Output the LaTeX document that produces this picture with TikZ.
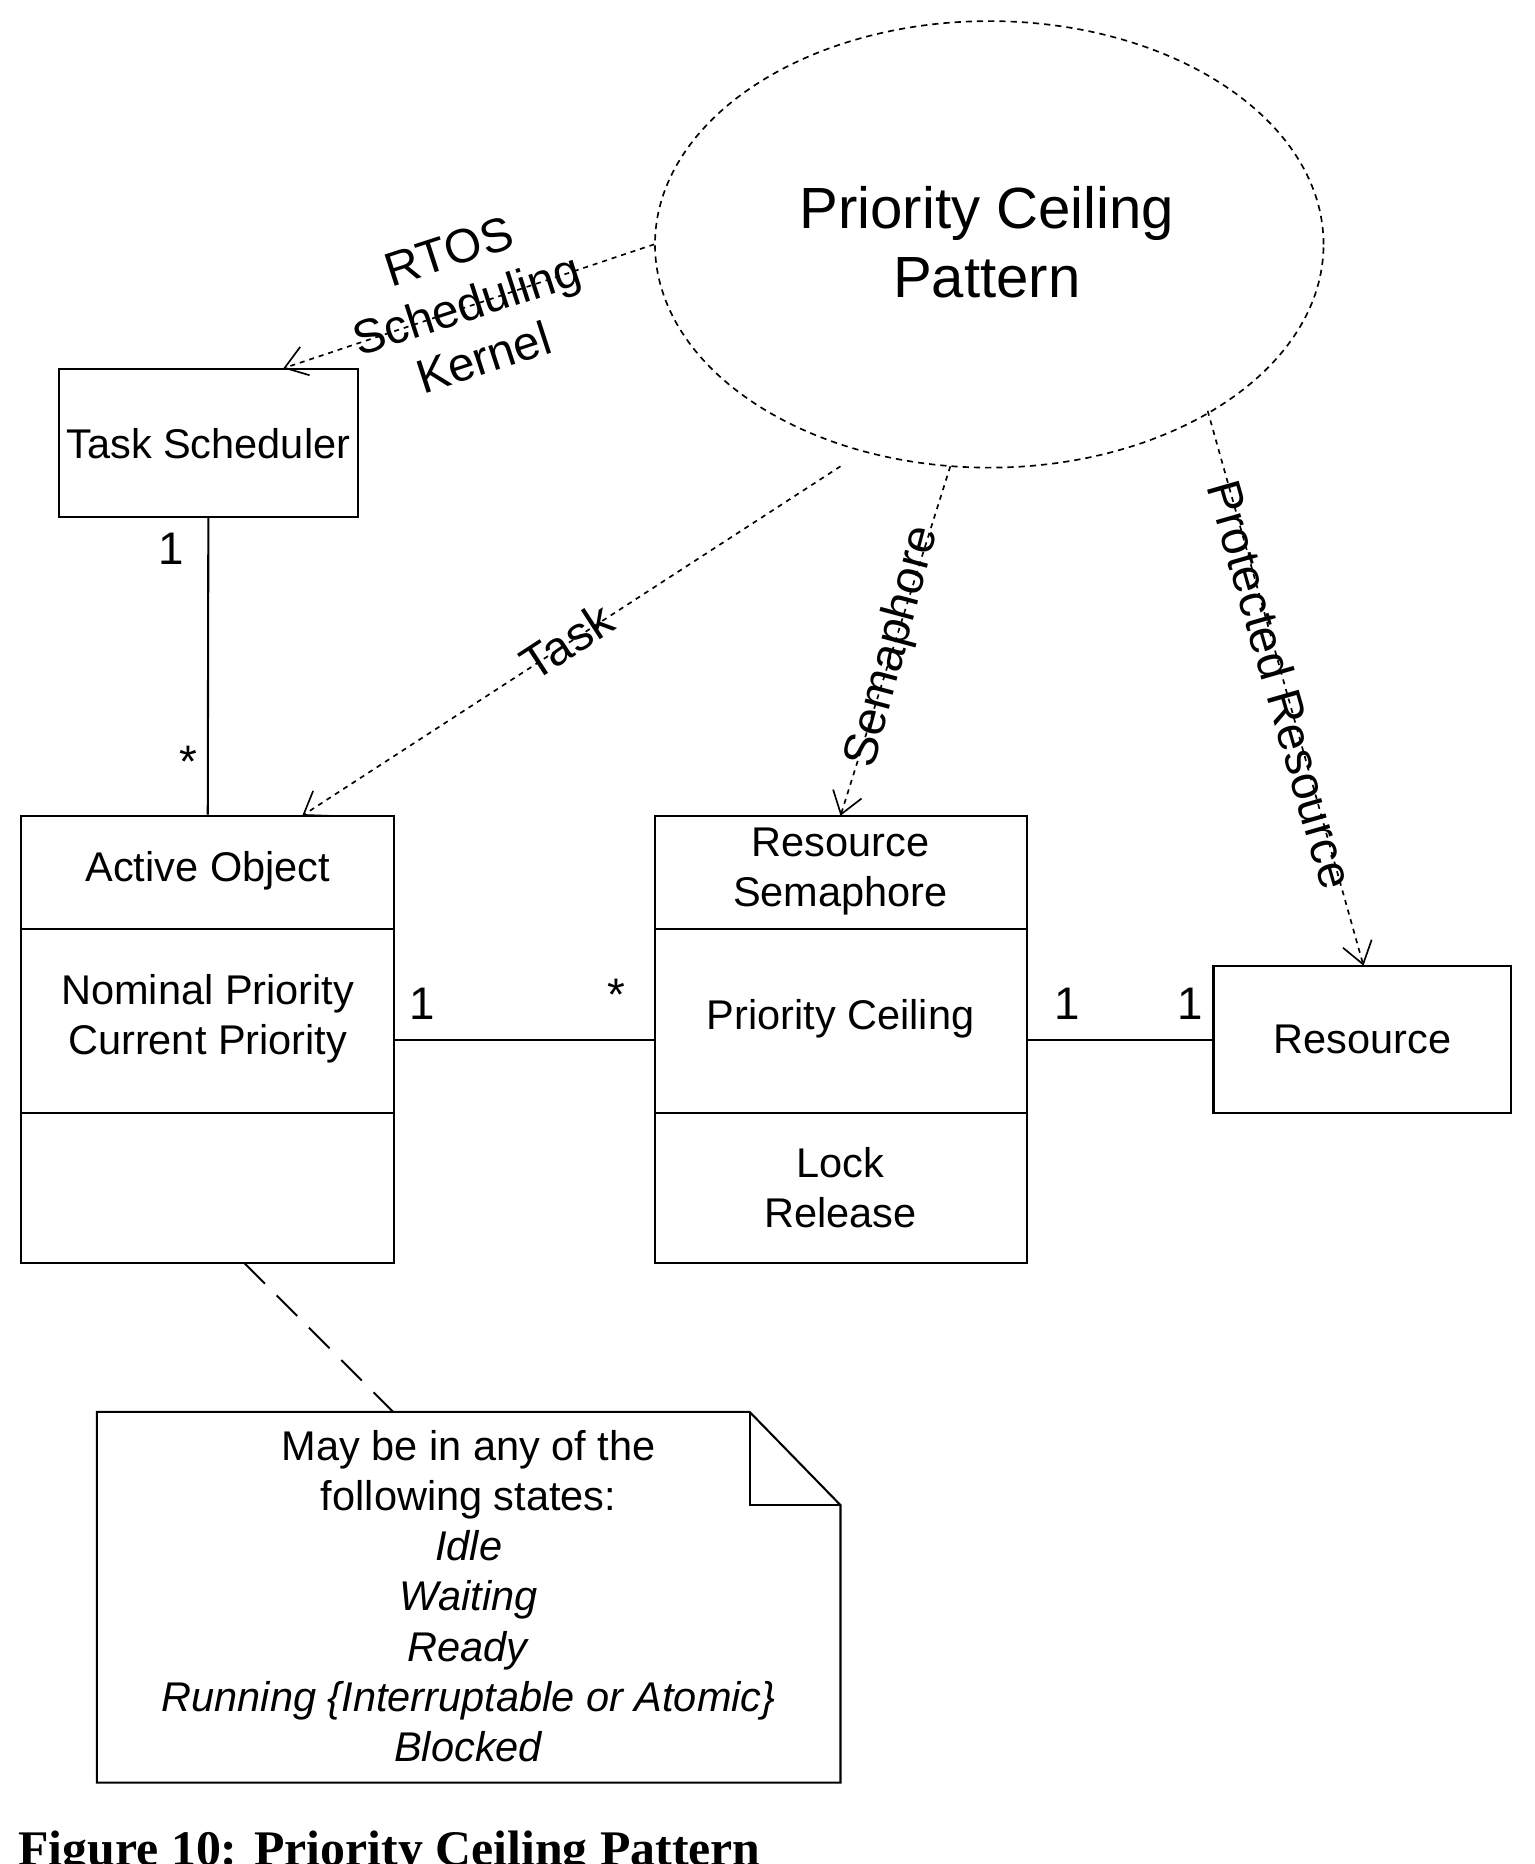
\documentclass[tikz,border=0pt]{standalone}
\usepackage{fontspec}
\setmainfont{Liberation Sans}
\newfontfamily\capfont{Liberation Serif}
\usetikzlibrary{shapes.geometric,arrows.meta}
\tikzset{
  box/.style={draw, line width=0.5pt, inner sep=0pt, font=\fontsize{10}{12}\selectfont, align=center},
  link/.style={line width=0.5pt},
  usage/.style={dashed, dash pattern=on 1.2pt off 1.2pt, line width=0.4pt, -{Straight Barb[angle=70:2.2mm]}},
  tag/.style={font=\fontsize{11.5}{13.5}\selectfont, align=center, inner sep=1pt},
  mult/.style={font=\fontsize{11}{13}\selectfont, inner sep=0pt}
}
\begin{document}
\begin{tikzpicture}[x=0.01cm, y=-0.01cm]
    \useasboundingbox (0,0) rectangle (1300,1579);
    \clip (0,0) rectangle (1300,1579);

    % Pattern collaboration
    \node[draw, ellipse, dashed, dash pattern=on 1.5pt off 1.2pt, line width=0.4pt,
          minimum width=5.66cm, minimum height=3.78cm, inner sep=0pt] (pcp) at (838,207) {};
    \node[align=center, font=\fontsize{14}{16.5}\selectfont] at (836,205) {Priority Ceiling\\Pattern};

    % Classes
    \node[box, minimum width=2.53cm, minimum height=1.25cm] (sched) at (176.5,375.5) {Task Scheduler};
    \node[box, minimum width=3.16cm, minimum height=3.79cm] (active) at (176,880.5) {};
    \node[box, minimum width=3.15cm, minimum height=3.79cm] (sem) at (712.5,880.5) {};
    \node[box, minimum width=2.52cm, minimum height=1.25cm] (res) at (1154,880.5) {Resource};

    \draw[link] (18,787) -- (334,787) (18,943) -- (334,943);
    \draw[link] (555,787) -- (870,787) (555,943) -- (870,943);
    \node[box, draw=none] (aoname) at (176,738) {Active Object};
    \node[box, draw=none] (aoattr) at (176,863) {Nominal Priority\\Current Priority};
    \node[box, draw=none] (semname) at (712,738) {Resource\\Semaphore};
    \node[box, draw=none] (semattr) at (712,863) {Priority Ceiling};
    \node[box, draw=none] (semops) at (712,1006) {Lock\\Release};

    % Associations
    \draw[link] (sched.south) -- (active.north);
    \node[mult] at (145,465) {1};
    \node[mult] at (160,645) {*};
    \draw[link] (active.east |- 0,881) -- (sem.west |- 0,881);
    \node[mult] at (358,850) {1};
    \node[mult] at (522,843) {*};
    \draw[link] (sem.east |- 0,881) -- (res.west |- 0,881);
    \node[mult] at (904,850) {1};
    \node[mult] at (1008,850) {1};

    % Roles
    \coordinate (r1) at (712,395);
    \coordinate (r2) at (805,395);
    \coordinate (r3) at (1023,348);
    \draw[usage] (pcp.west) -- (240,312);
    \draw[usage] (r1) -- (256,691);
    \draw[usage] (r2) -- (712,691);
    \draw[usage] (r3) -- (1155,818);
    \node[tag, rotate=18] at (395,258) {RTOS\\Scheduling\\Kernel};
    \node[tag, rotate=33] at (480,543) {Task};
    \node[tag, rotate=75] at (757,548) {Semaphore};
    \node[tag, rotate=-74] at (1085,580) {Protected Resource};

    % Note
    \draw[link] (82,1196) -- (635,1196) -- (712,1275) -- (712,1510) -- (82,1510) -- cycle;
    \draw[link] (635,1196) -- (635,1275) -- (712,1275);
    \node[box, draw=none, font=\fontsize{10}{12.1}\selectfont] (note) at (397,1352)
      {May be in any of the\\following states:\\\textit{Idle}\\\textit{Waiting}\\\textit{Ready}\\\textit{Running \{Interruptable or Atomic\}}\\\textit{Blocked}};
    \draw[line width=0.5pt, dashed, dash pattern=on 7pt off 4pt] (207,1070) -- (333,1196);

    \node[anchor=west, font=\capfont\bfseries\fontsize{12}{14}\selectfont, inner sep=0pt] (cap) at (15,1570) {Figure 10: Priority Ceiling Pattern};
\end{tikzpicture}
\end{document}
